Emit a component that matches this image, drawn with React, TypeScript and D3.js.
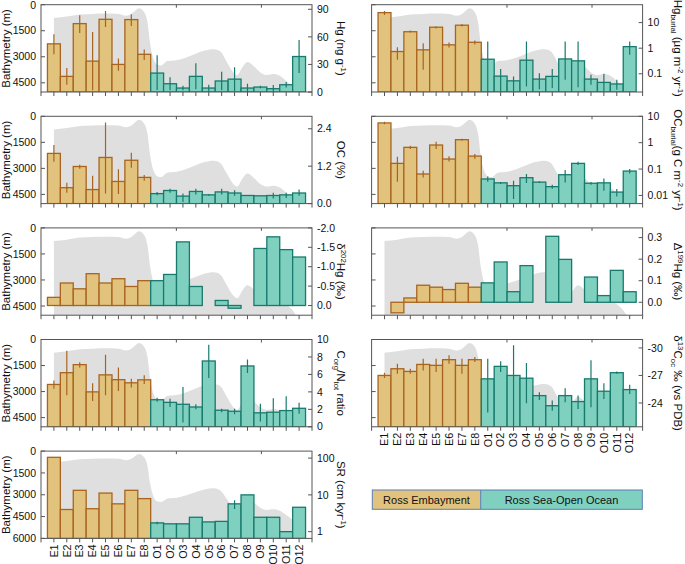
import React from "react";
import * as d3 from "d3";

// ---------- data ----------
const stations = ["E1","E2","E3","E4","E5","E6","E7","E8","O1","O2","O3","O4","O5","O6","O7","O8","O9","O10","O11","O12"];

// bathymetry profile (position in station units, depth in m)
const bathyPosition = [1, 2, 3, 4, 5, 6, 6.6, 7.0, 7.6, 8.0, 8.25, 8.45, 8.7, 9.0, 9.3, 9.8, 10.5, 11.2, 11.9, 12.6, 13.4, 13.9, 14.4, 14.9, 15.2, 15.6, 16.0, 16.5, 17.0, 17.5, 18.0, 18.5, 19.0, 19.5, 20.0];
const bathyDepth = [760, 680, 560, 530, 510, 530, 630, 530, 200, 430, 1000, 2200, 3100, 3450, 3500, 3250, 3200, 3050, 2850, 2650, 2560, 2700, 3300, 3900, 4050, 3600, 3300, 3550, 3900, 4050, 4000, 4100, 4400, 4750, 5400];
const bathyTicks = [0, 1500, 3000, 4500];
const bathyTicksDeep = [0, 1500, 3000, 4500, 6000];
const topTickPositions = [10.49, 17.08];

// Hg (ng g-1)
const hgValue = [52.4, 17.0, 74.4, 33.6, 79.1, 30.0, 78.8, 41.0, 20.6, 9.0, 4.3, 17.0, 4.3, 12.0, 14.0, 4.3, 5.4, 3.6, 7.9, 38.6];
const hgLow = [41.2, 8, 64.3, 1.8, 70.8, 23.1, 71.9, 34.7, 2.2, 2, 1.8, 3, 0.6, 2, 1, 0, 4, 0, 5, 20.6];
const hgHigh = [62.9, 26, 83.5, 65.4, 88.2, 36.5, 84.6, 46.3, 40, 16, 6.8, 31.4, 8, 22, 27, 9, 6.8, 7.6, 10.8, 56.7];

// OC (%)
const ocValue = [1.61, 0.51, 1.19, 0.45, 1.48, 0.71, 1.39, 0.84, 0.32, 0.42, 0.24, 0.39, 0.28, 0.375, 0.34, 0.26, 0.25, 0.26, 0.28, 0.34];
const ocLow = [1.34, 0.35, 1.12, 0.0, 0.32, 0.31, 1.15, 0.73, 0.27, 0.35, 0.05, 0.29, 0.25, 0.29, 0.25, null, null, 0.16, 0.18, 0.25];
const ocHigh = [1.88, 0.67, 1.25, 0.89, 2.6, 1.1, 1.63, 0.92, 0.375, 0.48, 0.32, 0.48, 0.31, 0.48, 0.43, null, null, 0.35, 0.35, 0.45];

// δ202Hg (‰)
const d202Value = [-0.21, -0.58, -0.43, -0.82, -0.58, -0.69, -0.49, -0.64, -0.64, -0.80, -1.64, -0.49, null, -0.13, 0.07, null, -1.47, -1.77, -1.44, -1.25];

// Corg/Ntot ratio
const cnValue = [4.85, 6.2, 7.12, 4.0, 5.95, 5.4, 5.04, 5.38, 3.1, 2.8, 2.58, 2.27, 7.54, 1.9, 1.78, 6.97, 1.6, 1.67, 1.86, 2.12];
const cnLow = [4.36, 3.6, 6.8, 2.95, 3.6, 4.1, 4.5, 4.9, 2.88, 2.27, 0.5, 2.0, 5.6, 1.67, 1.44, 6.17, 0.6, -0.3, 0, 1.5];
const cnHigh = [5.3, 8.7, 7.4, 5.0, 8.25, 6.8, 5.5, 5.9, 3.33, 3.2, 4.55, 2.58, 9.4, 2.08, 2.08, 7.7, 2.65, 3.26, 3.5, 2.76];

// SR (cm kyr-1)
const srValue = [105, 4.0, 13.3, 4.2, 11.2, 5.7, 13.3, 7.9, 1.73, 1.63, 1.63, 2.46, 1.84, 1.9, 5.7, 10.0, 2.46, 2.46, 1.0, 4.6];
const srLow = [null, null, null, null, null, null, null, null, 1.6, null, null, null, null, null, 4.1, null, null, null, null, null];
const srHigh = [null, null, null, null, null, null, null, null, 1.87, null, null, null, null, null, 7.1, null, null, null, null, null];

// Hg burial (µg m-2 yr-1)
const hgBurialValue = [24.5, 0.74, 4.4, 0.86, 6.6, 1.35, 7.9, 1.7, 0.37, 0.081, 0.053, 0.34, 0.062, 0.079, 0.38, 0.32, 0.062, 0.046, 0.04, 1.15];
const hgBurialLow = [19.9, 0.35, 4.07, 0.143, 5.84, 1.06, 6.98, 1.39, 0.02, 0.02, 0.02, 0.032, 0.025, 0.028, 0.058, 0.03, 0.037, 0.02, 0.024, 0.55];
const hgBurialHigh = [28.5, 1.09, 4.88, 1.57, 6.98, 1.66, 8.87, 1.99, 1.82, 0.152, 0.079, 1.82, 0.106, 0.152, 1.82, 1.82, 0.091, 0.1, 0.058, 1.82];

// OC burial (g C m-2 yr-1)
const ocBurialValue = [5.6, 0.164, 0.665, 0.065, 0.815, 0.24, 1.3, 0.31, 0.042, 0.030, 0.0234, 0.047, 0.032, 0.0215, 0.061, 0.164, 0.029, 0.030, 0.0134, 0.084];
const ocBurialLow = [4.97, 0.033, 0.575, 0.048, 0.575, 0.195, 1.19, 0.24, 0.033, 0.027, 0.0073, 0.0295, 0.0295, 0.0179, 0.031, 0.142, 0.0254, 0.015, 0.0092, 0.068];
const ocBurialHigh = [6.27, 0.294, 0.77, 0.0865, 1.09, 0.303, 1.42, 0.371, 0.0527, 0.032, 0.036, 0.065, 0.0346, 0.0254, 0.0917, 0.19, 0.032, 0.044, 0.0174, 0.1];

// Δ199Hg (‰)
const d199Value = [null, -0.049, 0.020, 0.079, 0.070, 0.059, 0.088, 0.070, 0.090, 0.187, 0.049, 0.170, null, 0.306, 0.199, null, 0.117, 0.031, 0.148, 0.049];

// δ13Coc (‰ vs PDB)
const d13Value = [-27.0, -27.73, -27.44, -28.2, -28.1, -28.72, -28.1, -28.72, -26.63, -27.99, -27.0, -26.7, -24.8, -23.7, -24.8, -24.15, -26.63, -25.28, -27.3, -25.46];
const d13Low = [-27.29, -28.28, -27.73, -28.83, -28.83, -29.2, -28.83, -29.01, -28.83, -28.54, -30.29, -28.35, -25.17, -24.26, -25.6, -24.8, -28.65, -26.16, -27.44, -25.98];
const d13High = [-26.71, -27.18, -27.18, -27.55, -27.37, -28.28, -27.18, -28.46, -22.97, -27.37, -21.4, -23.96, -24.33, -23.16, -24.07, -23.34, -23.52, -24.44, -27.18, -24.99];

const legendLabels = ["Ross Embayment", "Ross Sea-Open Ocean"];

// ---------- styling ----------
const FONT = "'Liberation Sans', Arial, Helvetica, sans-serif";
const GOLD_FILL = "#E2C37D";
const GOLD_STROKE = "#A8641E";
const TEAL_FILL = "#80D0C0";
const TEAL_STROKE = "#177A6C";
const GRAY = "#DFDFDF";
const AXIS = "#555";
const LEFT_X0 = 41;
const RIGHT_X0 = 371.6;
const PLOT_W = 271;
const TOP0 = 4.7;
const ROW_STEP = 111.6;
const PLOT_H = 87.3;
const TICK_FS = 10.5;
const LABEL_FS = 11.5;

type Part = [string, "" | "sup" | "sub"];
type PanelDef = {
  id: string;
  col: 0 | 1;
  row: number;
  values: (number | null)[];
  lo?: (number | null)[];
  hi?: (number | null)[];
  log?: boolean;
  domain: [number, number]; // value at bottom, value at top
  ticks: number[];
  fmt: (v: number) => string;
  baseline?: number;
  bathyMax: number;
  label: Part[];
  xLabels?: boolean;
};

const fmt1 = (v: number) => v.toFixed(1);
const fmt0 = (v: number) => String(v);

const panels: PanelDef[] = [
  { id: "hg", col: 0, row: 0, values: hgValue, lo: hgLow, hi: hgHigh, domain: [0, 95], ticks: [0, 30, 60, 90], fmt: fmt0, bathyMax: 5030,
    label: [["Hg (ng g", ""], ["-1", "sup"], [")", ""]] },
  { id: "oc", col: 0, row: 1, values: ocValue, lo: ocLow, hi: ocHigh, domain: [0, 2.8], ticks: [0, 1.2, 2.4], fmt: fmt1, bathyMax: 5030,
    label: [["OC (%)", ""]] },
  { id: "d202", col: 0, row: 2, values: d202Value, domain: [0.25, -2.0], ticks: [0, -0.5, -1.0, -1.5, -2.0], fmt: fmt1, baseline: 0, bathyMax: 5030,
    label: [["δ", ""], ["202", "sup"], ["Hg (‰)", ""]] },
  { id: "cn", col: 0, row: 3, values: cnValue, lo: cnLow, hi: cnHigh, domain: [0, 10], ticks: [0, 2, 4, 6, 8, 10], fmt: fmt0, bathyMax: 5030,
    label: [["C", ""], ["org", "sub"], ["/N", ""], ["tot", "sub"], [" ratio", ""]] },
  { id: "sr", col: 0, row: 4, values: srValue, lo: srLow, hi: srHigh, log: true, domain: [0.655, 155], ticks: [1, 10, 100], fmt: fmt0, bathyMax: 6000,
    label: [["SR (cm kyr", ""], ["-1", "sup"], [")", ""]], xLabels: true },
  { id: "hgb", col: 1, row: 0, values: hgBurialValue, lo: hgBurialLow, hi: hgBurialHigh, log: true, domain: [0.0194, 50], ticks: [0.1, 1, 10], fmt: fmt0, bathyMax: 5030,
    label: [["Hg", ""], ["burial", "sub"], [" (µg m", ""], ["-2", "sup"], [" yr", ""], ["-1", "sup"], [")", ""]] },
  { id: "ocb", col: 1, row: 1, values: ocBurialValue, lo: ocBurialLow, hi: ocBurialHigh, log: true, domain: [0.0049, 10], ticks: [0.01, 0.1, 1, 10], fmt: fmt0, bathyMax: 5030,
    label: [["OC", ""], ["burial", "sub"], ["(g C m", ""], ["-2", "sup"], [" yr", ""], ["-1", "sup"], [")", ""]] },
  { id: "d199", col: 1, row: 2, values: d199Value, domain: [-0.06, 0.345], ticks: [0, 0.1, 0.2, 0.3], fmt: fmt1, baseline: 0, bathyMax: 5030,
    label: [["Δ", ""], ["199", "sup"], ["Hg (‰)", ""]] },
  { id: "d13", col: 1, row: 3, values: d13Value, lo: d13Low, hi: d13High, domain: [-21.4, -30.92], ticks: [-30, -27, -24], fmt: fmt0, bathyMax: 5030,
    label: [["δ", ""], ["13", "sup"], ["C", ""], ["oc", "sub"], [" ‰ (vs PDB)", ""]], xLabels: true },
];

function Rich({ parts, fs }: { parts: Part[]; fs: number }) {
  let cur = 0;
  return (
    <>
      {parts.map(([t, k], i) => {
        const shift = k === "sup" ? -0.38 * fs : k === "sub" ? 0.24 * fs : 0;
        const dy = shift - cur;
        cur = shift;
        return (
          <tspan key={i} dy={dy} fontSize={k ? fs * 0.68 : fs}>
            {t}
          </tspan>
        );
      })}
    </>
  );
}

function Panel({ def }: { def: PanelDef }) {
  const x0 = def.col === 0 ? LEFT_X0 : RIGHT_X0;
  const x1 = x0 + PLOT_W;
  const top = TOP0 + def.row * ROW_STEP;
  const bottom = top + PLOT_H;
  const n = stations.length;
  const xs = d3.scaleLinear().domain([0, n + 1]).range([x0, x1]);
  const yb = d3.scaleLinear().domain([0, def.bathyMax]).range([top, bottom]);
  const yv: any = def.log
    ? d3.scaleLog().domain(def.domain).range([bottom, top]).clamp(true)
    : d3.scaleLinear().domain(def.domain).range([bottom, top]);
  const base = def.baseline === undefined ? def.domain[0] : def.baseline;
  const area = d3
    .area<number>()
    .x((_, i) => xs(bathyPosition[i]))
    .y0(bottom)
    .y1((d) => yb(d))
    .curve(d3.curveMonotoneX);
  const clipId = `clip-${def.id}`;
  const bTicks = def.bathyMax > 5500 ? bathyTicksDeep : bathyTicks;
  const labelX = def.col === 0 ? 337 : 673.5;
  const midY = (top + bottom) / 2;

  return (
    <g>
      <defs>
        <clipPath id={clipId}>
          <rect x={x0} y={top} width={PLOT_W} height={bottom - top} />
        </clipPath>
      </defs>
      <g clipPath={`url(#${clipId})`}>
        <path d={area(bathyDepth) || ""} fill={GRAY} stroke="none" />
        {def.values.map((v, i) => {
          if (v === null) return null;
          const isE = stations[i].startsWith("E");
          const ya = yv(v);
          const yb0 = yv(base);
          return (
            <rect
              key={"b" + i}
              x={xs(i + 0.5)}
              width={xs(i + 1.5) - xs(i + 0.5)}
              y={Math.min(ya, yb0)}
              height={Math.abs(yb0 - ya)}
              fill={isE ? GOLD_FILL : TEAL_FILL}
              stroke={isE ? GOLD_STROKE : TEAL_STROKE}
              strokeWidth={1.3}
            />
          );
        })}
        {def.lo &&
          def.hi &&
          def.values.map((v, i) => {
            const lo = def.lo![i];
            const hi = def.hi![i];
            if (v === null || lo === null || hi === null) return null;
            const isE = stations[i].startsWith("E");
            const cx = xs(i + 1);
            return (
              <line
                key={"e" + i}
                x1={cx}
                x2={cx}
                y1={yv(lo)}
                y2={yv(hi)}
                stroke={isE ? GOLD_STROKE : TEAL_STROKE}
                strokeWidth={1.2}
              />
            );
          })}
      </g>
      {/* frame */}
      <rect x={x0} y={top} width={PLOT_W} height={bottom - top} fill="none" stroke={AXIS} strokeWidth={1} />
      {/* bottom ticks */}
      {d3.range(0, n + 2).map((t) => (
        <line key={"xt" + t} x1={xs(t)} x2={xs(t)} y1={bottom} y2={bottom + 4} stroke={AXIS} strokeWidth={1} />
      ))}
      {/* top ticks */}
      {topTickPositions.map((t) => (
        <line key={"tt" + t} x1={xs(t)} x2={xs(t)} y1={top} y2={top + 3} stroke={AXIS} strokeWidth={1} />
      ))}
      {/* left bathymetry ticks */}
      {bTicks.map((t) => (
        <g key={"bt" + t}>
          <line x1={x0} x2={x0 + 4} y1={yb(t)} y2={yb(t)} stroke={AXIS} strokeWidth={1} />
          {def.col === 0 && (
            <text x={x0 - 5} y={Math.max(yb(t), 5.8)} dy="0.35em" textAnchor="end" fontSize={TICK_FS} fill="#111">
              {t}
            </text>
          )}
        </g>
      ))}
      {/* right value ticks */}
      {def.ticks.map((t) => (
        <g key={"rt" + t}>
          <line x1={x1 - 4} x2={x1} y1={yv(t)} y2={yv(t)} stroke={AXIS} strokeWidth={1} />
          <text x={x1 + 5} y={Math.max(yv(t), 5.8)} dy="0.35em" textAnchor="start" fontSize={TICK_FS} fill="#111">
            {def.fmt(t)}
          </text>
        </g>
      ))}
      {/* left axis label */}
      {def.col === 0 && (
        <text transform={`translate(10,${midY}) rotate(-90)`} textAnchor="middle" fontSize={LABEL_FS} fill="#111">
          Bathymetry (m)
        </text>
      )}
      {/* right axis label */}
      <text transform={`translate(${labelX},${midY}) rotate(90)`} textAnchor="middle" fontSize={LABEL_FS} fill="#111">
        <Rich parts={def.label} fs={LABEL_FS} />
      </text>
      {/* x labels */}
      {def.xLabels &&
        stations.map((s, i) => (
          <text
            key={"xl" + s}
            transform={`translate(${xs(i + 1)},${bottom + 6}) rotate(-90)`}
            dy="0.35em"
            textAnchor="end"
            fontSize={10.8}
            fill="#111"
          >
            {s}
          </text>
        ))}
    </g>
  );
}

function Legend() {
  const x0 = 372.3;
  const xm = 480.7;
  const x1 = 642.3;
  const y0 = 490;
  const h = 19.3;
  return (
    <g>
      <rect x={x0} y={y0} width={xm - x0} height={h} fill={GOLD_FILL} />
      <rect x={xm} y={y0} width={x1 - xm} height={h} fill={TEAL_FILL} />
      <rect x={x0} y={y0} width={x1 - x0} height={h} fill="none" stroke="#5B7DB8" strokeWidth={1} />
      <line x1={xm} x2={xm} y1={y0} y2={y0 + h} stroke="#5B7DB8" strokeWidth={1} />
      <text x={(x0 + xm) / 2} y={y0 + h / 2} dy="0.35em" textAnchor="middle" fontSize={11} fill="#111">
        {legendLabels[0]}
      </text>
      <text x={(xm + x1) / 2} y={y0 + h / 2} dy="0.35em" textAnchor="middle" fontSize={11} fill="#111">
        {legendLabels[1]}
      </text>
    </g>
  );
}

export default function App() {
  return (
    <svg
      width={685}
      height={564}
      style={{ position: "absolute", left: 0, top: 0, background: "#fff" }}
      fontFamily={FONT}
    >
      {panels.map((p) => (
        <Panel key={p.id} def={p} />
      ))}
      <Legend />
    </svg>
  );
}
